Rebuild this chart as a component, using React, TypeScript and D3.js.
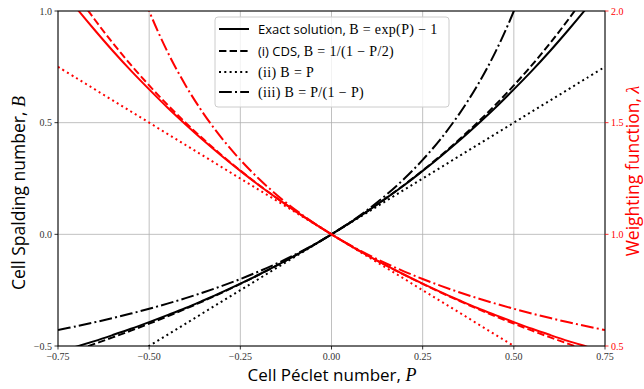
import React from "react";
import * as d3 from "d3";

// Cell Péclet number samples
const P = [
  -0.75, -0.7, -0.65, -0.6, -0.55, -0.5, -0.45, -0.4, -0.35, -0.3, -0.25, -0.2, -0.15, -0.1, -0.05,
  0, 0.05, 0.1, 0.15, 0.2, 0.25, 0.3, 0.35, 0.4, 0.45, 0.5, 0.55, 0.6, 0.65, 0.7, 0.75,
];

// Cell Spalding number B (left axis)
const exactB = [
  -0.527, -0.503, -0.478, -0.451, -0.423, -0.393, -0.362, -0.33, -0.295, -0.259, -0.221, -0.181, -0.139, -0.095, -0.049,
  0, 0.051, 0.105, 0.162, 0.221, 0.284, 0.35, 0.419, 0.492, 0.568, 0.649, 0.733, 0.822, 0.916, 1.014, 1.117,
];
const cdsB = [
  -0.5455, -0.5185, -0.4906, -0.4615, -0.4314, -0.4, -0.3673, -0.3333, -0.2979, -0.2609, -0.2222, -0.1818, -0.1395, -0.0952, -0.0488,
  0, 0.0513, 0.1053, 0.1622, 0.2222, 0.2857, 0.3529, 0.4242, 0.5, 0.5806, 0.6667, 0.7586, 0.8571, 0.963, 1.0769, 1.2,
];
const linB = [
  -0.75, -0.7, -0.65, -0.6, -0.55, -0.5, -0.45, -0.4, -0.35, -0.3, -0.25, -0.2, -0.15, -0.1, -0.05,
  0, 0.05, 0.1, 0.15, 0.2, 0.25, 0.3, 0.35, 0.4, 0.45, 0.5, 0.55, 0.6, 0.65, 0.7, 0.75,
];
const iiiB = [
  -0.4286, -0.4118, -0.3939, -0.375, -0.3548, -0.3333, -0.3103, -0.2857, -0.2593, -0.2308, -0.2, -0.1667, -0.1304, -0.0909, -0.0476,
  0, 0.0526, 0.1111, 0.1765, 0.25, 0.3333, 0.4286, 0.5385, 0.6667, 0.8182, 1.0, 1.2222, 1.5, 1.8571, 2.3333, 3.0,
];

// Weighting function lambda (right axis)
const exactL = [
  2.117, 2.014, 1.916, 1.822, 1.733, 1.649, 1.568, 1.492, 1.419, 1.35, 1.284, 1.221, 1.162, 1.105, 1.051,
  1, 0.951, 0.905, 0.861, 0.819, 0.779, 0.741, 0.705, 0.67, 0.638, 0.607, 0.577, 0.549, 0.522, 0.497, 0.472,
];
const cdsL = [
  2.2, 2.0769, 1.963, 1.8571, 1.7586, 1.6667, 1.5806, 1.5, 1.4242, 1.3529, 1.2857, 1.2222, 1.1622, 1.1053, 1.0513,
  1, 0.9512, 0.9048, 0.8605, 0.8182, 0.7778, 0.7391, 0.7021, 0.6667, 0.6327, 0.6, 0.5686, 0.5385, 0.5094, 0.4815, 0.4545,
];
const linL = [
  1.75, 1.7, 1.65, 1.6, 1.55, 1.5, 1.45, 1.4, 1.35, 1.3, 1.25, 1.2, 1.15, 1.1, 1.05,
  1, 0.95, 0.9, 0.85, 0.8, 0.75, 0.7, 0.65, 0.6, 0.55, 0.5, 0.45, 0.4, 0.35, 0.3, 0.25,
];
const iiiL = [
  4.0, 3.3333, 2.8571, 2.5, 2.2222, 2.0, 1.8182, 1.6667, 1.5385, 1.4286, 1.3333, 1.25, 1.1765, 1.1111, 1.0526,
  1, 0.9524, 0.9091, 0.8696, 0.8333, 0.8, 0.7692, 0.7407, 0.7143, 0.6897, 0.6667, 0.6452, 0.625, 0.6061, 0.5882, 0.5714,
];

const xTicks = [-0.75, -0.5, -0.25, 0, 0.25, 0.5, 0.75];
const yLeftTicks = [-0.5, 0, 0.5, 1.0];
const yRightTicks = [0.5, 1.0, 1.5, 2.0];

const W = 644;
const H = 389;
const L = 58, R = 605, T = 11, B = 346;

const DASHED = "7.4,3.2";
const DOTTED = "2,3.3";
const DASHDOT = "12.8,3.2,2,3.2";

const SANS = "'Open Sans', Lato, sans-serif";
const SERIF = "'Liberation Serif', 'DejaVu Serif', serif";

const fmt = (v: number, d: number) => {
  const s = Math.abs(v).toFixed(d);
  return (v < 0 ? "\u2212" : "") + s;
};

export default function App() {
  const x = d3.scaleLinear().domain([-0.75, 0.75]).range([L, R]);
  const yL = d3.scaleLinear().domain([-0.5, 1.0]).range([B, T]);
  const yR = d3.scaleLinear().domain([0.5, 2.0]).range([B, T]);

  const mk = (ys: number[], sy: d3.ScaleLinear<number, number>) =>
    d3
      .line<number>()
      .x((_, i) => x(P[i]))
      .y((v) => sy(v))
      .curve(d3.curveCatmullRom.alpha(0.5))(ys) as string;

  const black = [
    { d: exactB, dash: undefined },
    { d: cdsB, dash: DASHED },
    { d: linB, dash: DOTTED },
    { d: iiiB, dash: DASHDOT },
  ];
  const red = [
    { d: exactL, dash: undefined },
    { d: cdsL, dash: DASHED },
    { d: linL, dash: DOTTED },
    { d: iiiL, dash: DASHDOT },
  ];

  const legendRows = [
    { dash: undefined, y: 29 },
    { dash: DASHED, y: 51 },
    { dash: DOTTED, y: 72 },
    { dash: DASHDOT, y: 92 },
  ];

  const mathSpacing = 0.35;

  return (
    <svg
      width={W}
      height={H}
      style={{ position: "absolute", left: 0, top: 0, background: "#fff" }}
    >
      <defs>
        <clipPath id="plotclip">
          <rect x={L} y={T} width={R - L} height={B - T} />
        </clipPath>
      </defs>
      <rect x={0} y={0} width={W} height={H} fill="#fff" />

      {/* grid */}
      {xTicks.map((t) => (
        <line key={"gx" + t} x1={x(t)} x2={x(t)} y1={T} y2={B} stroke="#b0b0b0" strokeWidth={0.8} />
      ))}
      {yLeftTicks.map((t) => (
        <line key={"gy" + t} x1={L} x2={R} y1={yL(t)} y2={yL(t)} stroke="#b0b0b0" strokeWidth={0.8} />
      ))}

      {/* curves */}
      <g clipPath="url(#plotclip)" fill="none" strokeWidth={2}>
        {black.map((c, i) => (
          <path key={"b" + i} d={mk(c.d, yL)} stroke="#000" strokeDasharray={c.dash} />
        ))}
        {red.map((c, i) => (
          <path key={"r" + i} d={mk(c.d, yR)} stroke="#ff0000" strokeDasharray={c.dash} />
        ))}
      </g>

      {/* spines */}
      <rect x={L} y={T} width={R - L} height={B - T} fill="none" stroke="#000" strokeWidth={1} />

      {/* x ticks */}
      {xTicks.map((t) => (
        <g key={"xt" + t}>
          <line x1={x(t)} x2={x(t)} y1={B} y2={B + 3.5} stroke="#000" strokeWidth={0.8} />
          <text x={x(t)} y={B + 13.5} textAnchor="middle" fontFamily={SERIF} fontSize={10} fill="#333">
            {fmt(t, 2)}
          </text>
        </g>
      ))}
      {/* left ticks */}
      {yLeftTicks.map((t) => (
        <g key={"yl" + t}>
          <line x1={L - 3.5} x2={L} y1={yL(t)} y2={yL(t)} stroke="#000" strokeWidth={0.8} />
          <text x={L - 6} y={yL(t) + 3.5} textAnchor="end" fontFamily={SERIF} fontSize={10} fill="#333">
            {fmt(t, 1)}
          </text>
        </g>
      ))}
      {/* right ticks */}
      {yRightTicks.map((t) => (
        <g key={"yr" + t}>
          <line x1={R} x2={R + 3.5} y1={yR(t)} y2={yR(t)} stroke="#ff0000" strokeWidth={0.8} />
          <text x={R + 6} y={yR(t) + 3.5} textAnchor="start" fontFamily={SERIF} fontSize={10} fill="#ff0000">
            {fmt(t, 1)}
          </text>
        </g>
      ))}

      {/* axis labels */}
      <text x={332} y={380.5} textAnchor="middle" fontFamily={SANS} fontSize={17} fill="#000">
        Cell Péclet number,{" "}
        <tspan fontFamily={SERIF} fontStyle="italic" fontSize={18}>P</tspan>
      </text>
      <text
        transform="translate(25,193) rotate(-90)"
        textAnchor="middle"
        fontFamily={SANS}
        fontSize={17.5}
        fill="#000"
      >
        Cell Spalding number,{" "}
        <tspan fontFamily={SERIF} fontStyle="italic" fontSize={18}>B</tspan>
      </text>
      <text
        transform="translate(639,171) rotate(-90)"
        textAnchor="middle"
        fontFamily={SANS}
        fontSize={17.5}
        fill="#ff0000"
      >
        Weighting function,{" "}
        <tspan fontFamily={SERIF} fontStyle="italic" fontSize={18}>λ</tspan>
      </text>

      {/* legend */}
      <rect
        x={215}
        y={17}
        width={234}
        height={90}
        rx={3}
        fill="#fff"
        fillOpacity={0.8}
        stroke="#cccccc"
        strokeWidth={1}
      />
      {legendRows.map((r, i) => (
        <line
          key={"lg" + i}
          x1={219}
          x2={249}
          y1={r.y}
          y2={r.y}
          stroke="#000"
          strokeWidth={2}
          strokeDasharray={r.dash}
        />
      ))}
      <text x={258} y={34} fill="#000">
        <tspan fontFamily={SANS} fontSize={13}>Exact solution, </tspan>
        <tspan fontFamily={SERIF} fontSize={14} letterSpacing={mathSpacing}>B = exp(P) − 1</tspan>
      </text>
      <text x={258} y={56} fill="#000">
        <tspan fontFamily={SANS} fontSize={13}>(i) CDS, </tspan>
        <tspan fontFamily={SERIF} fontSize={14} letterSpacing={mathSpacing}>B = 1/(1 − P/2)</tspan>
      </text>
      <text x={258} y={77} fontSize={14} fill="#000" fontFamily={SERIF} letterSpacing={mathSpacing}>
        (ii) B = P
      </text>
      <text x={258} y={97} fontSize={14} fill="#000" fontFamily={SERIF} letterSpacing={mathSpacing}>
        (iii) B = P/(1 − P)
      </text>
    </svg>
  );
}
